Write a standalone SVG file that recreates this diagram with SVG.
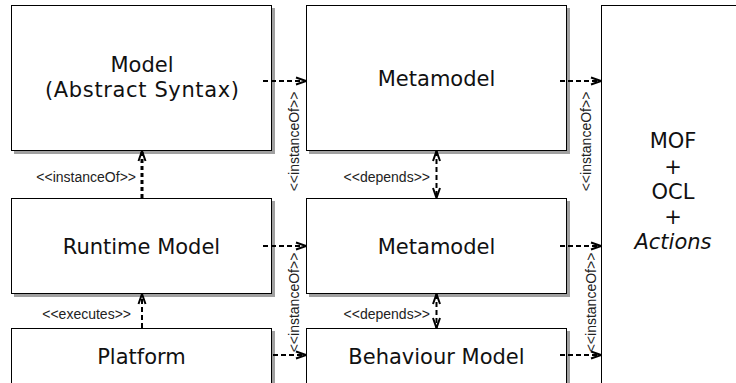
<svg xmlns="http://www.w3.org/2000/svg" width="736" height="383" viewBox="0 0 736 383">
<style>
.box{fill:#fff;stroke:#000;stroke-width:1}
.shadow{fill:#a0a0a0}
.big{font-family:"DejaVu Sans",Verdana,sans-serif;font-size:21px;fill:#111;text-anchor:middle}
.lbl{font-family:"Liberation Sans",Arial,sans-serif;font-size:14px;fill:#222}
.h{fill:none;stroke:#000;stroke-width:2;stroke-dasharray:5 3}
.v{fill:none;stroke:#000;stroke-width:2;stroke-dasharray:5 3}
.vb{fill:none;stroke:#000;stroke-width:3;stroke-dasharray:4 3}
</style>
<defs>
<marker id="open" viewBox="0 0 12 12" refX="11" refY="6" markerWidth="12" markerHeight="12" markerUnits="userSpaceOnUse" orient="auto-start-reverse">
<path d="M1,2.5 L11,6 L1,9.5" fill="none" stroke="#000" stroke-width="2"/>
</marker>
</defs>
<g id="model">
<rect class="shadow" x="14" y="8" width="261" height="146"/>
<rect class="box" x="11.5" y="5.5" width="260" height="145"/>
<text class="big" x="142" y="72">Model</text>
<text class="big" x="142" y="97" textLength="194" lengthAdjust="spacing">(Abstract Syntax)</text>
</g>
<g id="metamodel1">
<rect class="shadow" x="309" y="8" width="261" height="146"/>
<rect class="box" x="306.5" y="5.5" width="260" height="145"/>
<text class="big" x="436.5" y="86">Metamodel</text>
</g>
<g id="mof">
<rect class="box" x="601.5" y="5.5" width="200" height="400"/>
<text class="big" x="673" y="148">MOF</text>
<text class="big" x="673" y="174">+</text>
<text class="big" x="673" y="199">OCL</text>
<text class="big" x="673" y="224">+</text>
<text class="big" x="673" y="249" font-style="italic">Actions</text>
</g>
<g id="runtime">
<rect class="shadow" x="14" y="201" width="261" height="96"/>
<rect class="box" x="11.5" y="198.5" width="260" height="95"/>
<text class="big" x="141.5" y="254">Runtime Model</text>
</g>
<g id="metamodel2">
<rect class="shadow" x="309" y="201" width="261" height="96"/>
<rect class="box" x="306.5" y="198.5" width="260" height="95"/>
<text class="big" x="436.5" y="254">Metamodel</text>
</g>
<g id="platform">
<rect class="shadow" x="14" y="331" width="261" height="80"/>
<rect class="box" x="11.5" y="328.5" width="260" height="80"/>
<text class="big" x="141.5" y="364">Platform</text>
</g>
<g id="behaviour">
<rect class="shadow" x="309" y="331" width="261" height="80"/>
<rect class="box" x="306.5" y="328.5" width="260" height="80"/>
<text class="big" x="436.5" y="364">Behaviour Model</text>
</g>
<g id="connectors">
<path class="h" d="M263,81 H306" marker-end="url(#open)"/>
<path class="h" d="M560,81 H601" marker-end="url(#open)"/>
<path class="h" d="M263,246 H306" marker-end="url(#open)"/>
<path class="h" d="M560,246 H601" marker-end="url(#open)"/>
<path class="h" d="M273,355 H306" marker-end="url(#open)"/>
<path class="h" d="M560,355 H601" marker-end="url(#open)"/>
<path class="vb" d="M142,198 V151" marker-end="url(#open)"/>
<path class="v" d="M142,328 V294" marker-end="url(#open)"/>
<path class="v" d="M436.5,151 V198" marker-start="url(#open)" marker-end="url(#open)"/>
<path class="v" d="M436.5,294 V328" marker-start="url(#open)" marker-end="url(#open)"/>
<text class="lbl" x="136" y="182" text-anchor="end">&lt;&lt;instanceOf&gt;&gt;</text>
<text class="lbl" x="430" y="182" text-anchor="end">&lt;&lt;depends&gt;&gt;</text>
<text class="lbl" x="131" y="319" text-anchor="end">&lt;&lt;executes&gt;&gt;</text>
<text class="lbl" x="430" y="319" text-anchor="end">&lt;&lt;depends&gt;&gt;</text>
<text class="lbl" text-anchor="middle" transform="translate(299,141.5) rotate(-90)">&lt;&lt;instanceOf&gt;&gt;</text>
<text class="lbl" text-anchor="middle" transform="translate(591,141.5) rotate(-90)">&lt;&lt;instanceOf&gt;&gt;</text>
<text class="lbl" text-anchor="middle" transform="translate(299,302.5) rotate(-90)">&lt;&lt;instanceOf&gt;&gt;</text>
<text class="lbl" text-anchor="middle" transform="translate(596,302.5) rotate(-90)">&lt;&lt;instanceOf&gt;&gt;</text>
</g>
</svg>
